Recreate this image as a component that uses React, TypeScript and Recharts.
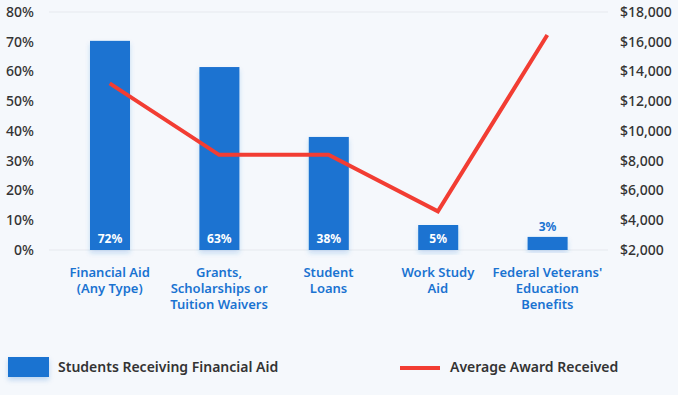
import React from 'react';
import {
  ComposedChart,
  Bar,
  Line,
  XAxis,
  YAxis,
  CartesianGrid,
  Legend,
  LabelList,
} from 'recharts';

const categories = [
  'Financial Aid\n(Any Type)',
  'Grants,\nScholarships or\nTuition Waivers',
  'Student\nLoans',
  'Work Study\nAid',
  "Federal Veterans'\nEducation\nBenefits",
];
// bar heights as drawn (%), and the labels printed on them
const receivingPct = [70.3, 61.5, 38, 8.4, 4.4];
const receivingLabels = ['72%', '63%', '38%', '5%', '3%'];
const averageAward = [13200, 8400, 8400, 4600, 16450];

const pctTicks = [0, 10, 20, 30, 40, 50, 60, 70, 80];
const awardTicks = [2000, 4000, 6000, 8000, 10000, 12000, 14000, 16000, 18000];

const data = categories.map((name, i) => ({
  name,
  pct: receivingPct[i],
  label: receivingLabels[i],
  award: averageAward[i],
}));

const BLUE = '#1a73d1';
const RED = '#f23d33';
const FONT = '"Noto Sans", "Open Sans", sans-serif';

const CategoryTick = (props: any) => {
  const { x, y, payload } = props;
  const lines = String(payload.value).split('\n');
  return (
    <text x={x} y={y} textAnchor="middle" fill={BLUE} fontSize={13} fontWeight={600} fontFamily={FONT}>
      {lines.map((l, i) => (
        <tspan key={i} x={x} dy={i === 0 ? 19 : 16}>{l}</tspan>
      ))}
    </text>
  );
};

const BarLabel = (props: any) => {
  const { x, y, width, height, value } = props;
  const cx = x + width / 2;
  if (height < 20) {
    return (
      <text x={cx} y={y - 6} textAnchor="middle" fill={BLUE} fontSize={12} fontWeight={700} fontFamily={FONT}>
        {value}
      </text>
    );
  }
  return (
    <text x={cx} y={y + height - 7} textAnchor="middle" fill="#fff" fontSize={12} fontWeight={700} fontFamily={FONT}>
      {value}
    </text>
  );
};

const ShadowBar = (props: any) => {
  const { x, y, width, height } = props;
  return <rect x={x} y={y} width={width} height={height} fill={BLUE} filter="url(#barShadow)" />;
};

const LegendBox = () => (
  <div style={{ position: 'relative', width: 678, height: 50, fontFamily: FONT, fontSize: 14, fontWeight: 600, color: '#333' }}>
    <div style={{ position: 'absolute', left: 8, top: 12, width: 41, height: 20, background: BLUE, boxShadow: '0 3px 5px rgba(26,115,209,0.25)' }} />
    <div style={{ position: 'absolute', left: 58, top: 12, lineHeight: '20px' }}>Students Receiving Financial Aid</div>
    <div style={{ position: 'absolute', left: 400, top: 21, width: 40, height: 4, background: RED }} />
    <div style={{ position: 'absolute', left: 450, top: 12, lineHeight: '20px' }}>Average Award Received</div>
  </div>
);

export default function App() {
  return (
    <div style={{ position: 'absolute', left: 0, top: 0, width: 678, height: 395, background: '#f5f8fc' }}>
      <ComposedChart width={678} height={395} data={data} margin={{ top: 12, right: 0, left: 0, bottom: 0 }}>
        <defs>
          <filter id="barShadow" x="-20%" y="-20%" width="140%" height="140%">
            <feDropShadow dx="0" dy="3" stdDeviation="2.5" floodColor="#1a73d1" floodOpacity="0.22" />
          </filter>
        </defs>
        <CartesianGrid vertical={false} stroke="#e6e9ee" strokeWidth={1} />
        <XAxis
          dataKey="name"
          axisLine={false}
          tickLine={false}
          height={95}
          interval={0}
          padding={{ left: 6, right: 6 }}
          tick={<CategoryTick />}
        />
        <YAxis
          yAxisId="left"
          domain={[0, 80]}
          ticks={pctTicks}
          tickFormatter={(v: number) => `${v}%`}
          axisLine={false}
          tickLine={false}
          tickSize={0}
          tickMargin={15}
          width={49}
          tick={{ fill: '#333', fontSize: 14, fontWeight: 500, fontFamily: FONT }}
        />
        <YAxis
          yAxisId="right"
          orientation="right"
          domain={[2000, 18000]}
          ticks={awardTicks}
          tickFormatter={(v: number) => `$${v.toLocaleString('en-US')}`}
          axisLine={false}
          tickLine={false}
          tickSize={0}
          tickMargin={12}
          width={70}
          tick={{ fill: '#333', fontSize: 14, fontWeight: 500, fontFamily: FONT, textAnchor: 'start' }}
        />
        <Bar yAxisId="left" dataKey="pct" barSize={40} shape={<ShadowBar />} isAnimationActive={false}>
          <LabelList dataKey="label" content={<BarLabel />} />
        </Bar>
        <Line
          yAxisId="right"
          dataKey="award"
          type="linear"
          stroke={RED}
          strokeWidth={4}
          dot={false}
          activeDot={false}
          isAnimationActive={false}
        />
        <Legend verticalAlign="bottom" height={50} wrapperStyle={{ left: 0, width: 678 }} content={<LegendBox />} />
      </ComposedChart>
    </div>
  );
}
